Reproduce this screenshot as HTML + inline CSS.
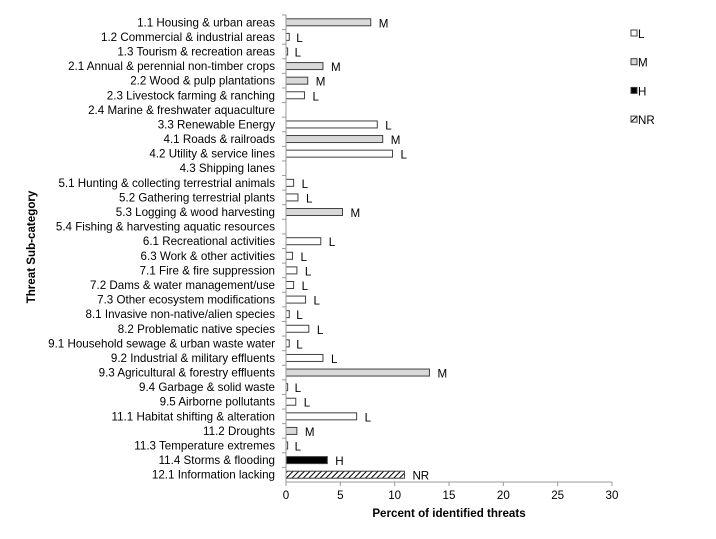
<!DOCTYPE html>
<html><head><meta charset="utf-8"><style>
body{margin:0;background:#fff;}
svg{display:block;font-family:"Liberation Sans",Arial,sans-serif;}
</style></head><body>
<svg id="chart" width="716" height="539" viewBox="0 0 716 539">
<defs><pattern id="hatch" width="4" height="4" patternUnits="userSpaceOnUse" patternTransform="rotate(45)"><rect width="4" height="4" fill="#fff"/><line x1="0" y1="0" x2="0" y2="4" stroke="#000" stroke-width="2"/></pattern></defs>
<g id="plot"></g>
</svg>
<script>
const categories=["1.1 Housing & urban areas","1.2 Commercial & industrial areas","1.3 Tourism & recreation areas","2.1 Annual & perennial non-timber crops","2.2 Wood & pulp plantations","2.3 Livestock farming & ranching","2.4 Marine & freshwater aquaculture","3.3 Renewable Energy","4.1 Roads & railroads","4.2 Utility & service lines","4.3 Shipping lanes","5.1 Hunting & collecting terrestrial animals","5.2 Gathering terrestrial plants","5.3 Logging & wood harvesting","5.4 Fishing & harvesting aquatic resources","6.1 Recreational activities","6.3 Work & other activities","7.1 Fire & fire suppression","7.2 Dams & water management/use","7.3 Other ecosystem modifications","8.1 Invasive non-native/alien species","8.2 Problematic native species","9.1 Household sewage & urban waste water","9.2 Industrial & military effluents","9.3 Agricultural & forestry effluents","9.4 Garbage & solid waste","9.5 Airborne pollutants","11.1 Habitat shifting & alteration","11.2 Droughts","11.3 Temperature extremes","11.4 Storms & flooding","12.1 Information lacking"];
const values=[7.8,0.3,0.15,3.4,2.0,1.7,0,8.4,8.9,9.8,0,0.7,1.1,5.2,0,3.2,0.6,1.0,0.7,1.8,0.3,2.1,0.3,3.4,13.2,0.15,0.9,6.5,1.0,0.15,3.8,10.9];
const levels=["M","L","L","M","M","L","","L","M","L","","L","L","M","","L","L","L","L","L","L","L","L","L","M","L","L","L","M","L","H","NR"];
const xTicks=[0,5,10,15,20,25,30];
const legendItems=["L","M","H","NR"];
const NS="http://www.w3.org/2000/svg";
const g=document.getElementById('plot');
const x0=286,x1=612,yTop=15,yBot=482,xMax=30;
const xs=v=>x0+v/xMax*(x1-x0);
const step=(yBot-yTop)/categories.length;
const yc=i=>yTop+step*(i+0.5);
const fills={L:"#fff",M:"#d9d9d9",H:"#000",NR:"url(#hatch)"};
function el(t,a,txt){const e=document.createElementNS(NS,t);for(const k in a)e.setAttribute(k,a[k]);if(txt!==undefined)e.textContent=txt;g.appendChild(e);return e;}
categories.forEach((c,i)=>{
 const t=el('text',{x:275,y:yc(i)+4,'text-anchor':'end','font-size':11.6,fill:'#000'},c);
 
 
 if(values[i]>0){
  const r=el('rect',{x:x0,y:yc(i)-3.5,width:xs(values[i])-x0,height:7,fill:fills[levels[i]],stroke:'#404040','stroke-width':1});
  
  
  const l=el('text',{x:xs(values[i])+(values[i]<0.5?7:8),y:yc(i)+5,'font-size':11.6,fill:'#000'},levels[i]);
  
  
 }
 el('line',{x1:x0-4,x2:x0,y1:yTop+step*i,y2:yTop+step*i,stroke:'#999'});
});
el('line',{x1:x0,x2:x0,y1:yTop,y2:yBot,stroke:'#999'});
el('line',{x1:x0,x2:x1,y1:yBot,y2:yBot,stroke:'#999'});
xTicks.forEach(v=>{
 el('line',{x1:xs(v),x2:xs(v),y1:yBot,y2:yBot+4,stroke:'#999'});
 const t=el('text',{x:xs(v),y:499,'text-anchor':'middle','font-size':11.6},v);
 
 
});
const xt=el('text',{x:449,y:517,'text-anchor':'middle','font-size':11.6,'font-weight':'bold'},'Percent of identified threats');


const yt=el('text',{x:0,y:0,'text-anchor':'middle','font-size':11.6,'font-weight':'bold',transform:'translate(35,247) rotate(-90)'},'Threat Sub-category');


legendItems.forEach((k,i)=>{
 const y=34+i*28.7;
 const r=el('rect',{x:631,y:y-4,width:6,height:6,fill:fills[k],stroke:'#404040'});
 
 
 const t=el('text',{x:638,y:y+4,'font-size':11.6},k);
 
 
});
</script>
</body></html>
